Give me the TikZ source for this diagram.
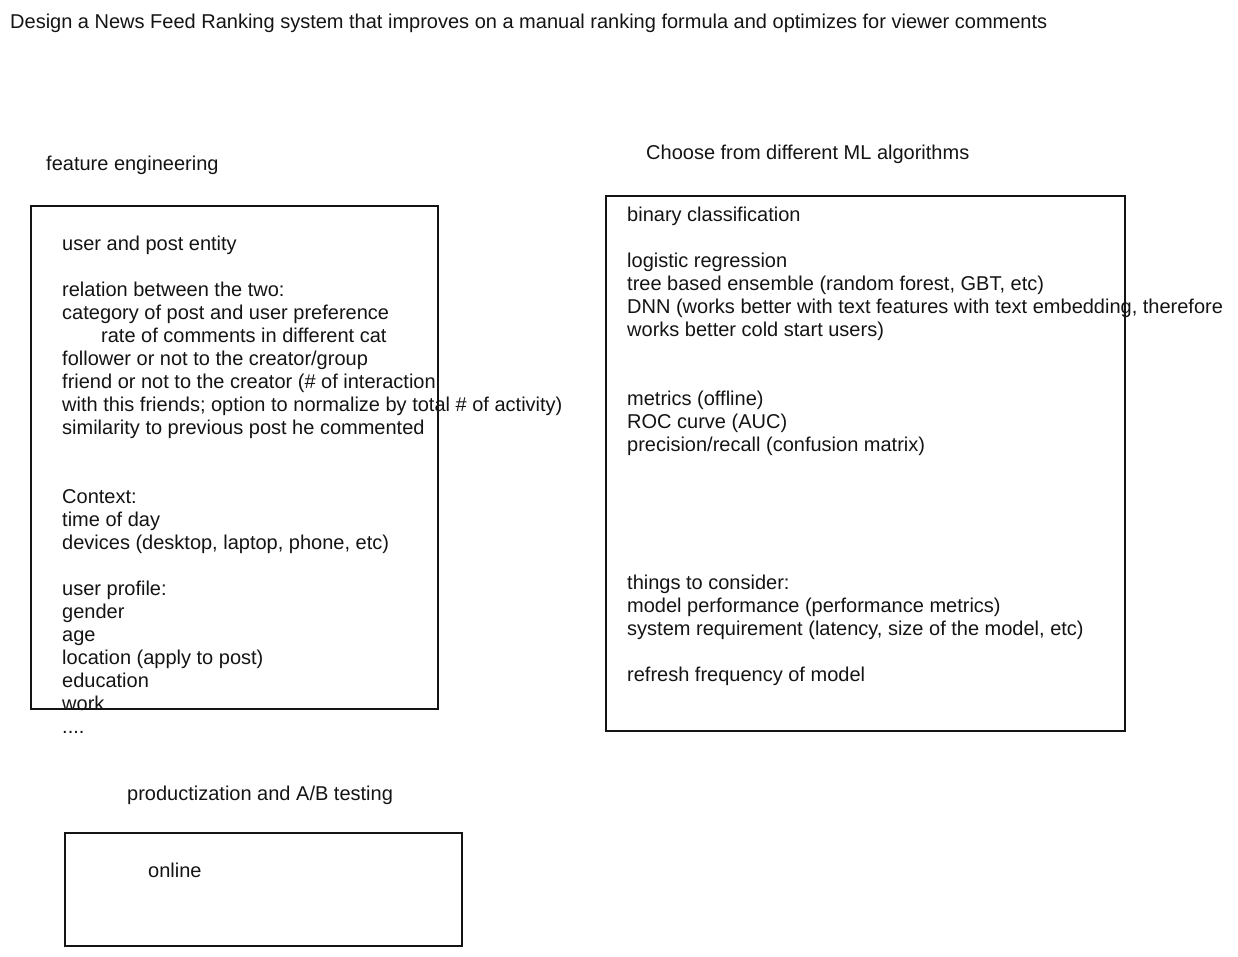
\documentclass[tikz,border=0pt]{standalone}
\usepackage{fontspec}
\setmainfont{Liberation Sans}
\usepackage{xcolor}
\usetikzlibrary{positioning}
\definecolor{ink1}{RGB}{20,20,20}

\begin{document}
\begin{tikzpicture}[x=1pt, y=-1pt,
  every node/.style={font=\fontsize{20}{23}\selectfont, text=ink1, inner sep=0pt},
  notes/.style={align=left, anchor=base west},
  sketchbox/.style={draw=ink1, line width=1.1pt}]

\useasboundingbox (0,0) rectangle (1238,956);

% TITLE
\node[anchor=base west] (title) at (10, 28) {Design a News Feed Ranking system that improves on a manual ranking formula and optimizes for viewer comments};

% FEATURE ENGINEERING (base = last line)
\node[anchor=base west] (feHead) at (46, 170) {feature engineering};
\draw[sketchbox] (31,206) rectangle (438,709);
\node[notes] (feText) at (62, 733) {user and post entity\\[23pt]
relation between the two:\\
category of post and user preference\\
\hspace*{39pt}rate of comments in different cat\\
follower or not to the creator/group\\
friend or not to the creator (\# of interaction\\
with this friends; option to normalize by total \# of activity)\\
similarity to previous post he commented\\[46pt]
Context:\\
time of day\\
devices (desktop, laptop, phone, etc)\\[23pt]
user profile:\\
gender\\
age\\
location (apply to post)\\
education\\
work\\
....};

% ML ALGORITHMS
\node[anchor=base west] (mlHead) at (646, 159) {Choose from different ML algorithms};
\draw[sketchbox] (606,196) rectangle (1125,731);
\node[notes] (mlText) at (627, 681) {binary classification\\[23pt]
logistic regression\\
tree based ensemble (random forest, GBT, etc)\\
DNN (works better with text features with text embedding, therefore\\
works better cold start users)\\[46pt]
metrics (offline)\\
ROC curve (AUC)\\
precision/recall (confusion matrix)\\[115pt]
things to consider:\\
model performance (performance metrics)\\
system requirement (latency, size of the model, etc)\\[23pt]
refresh frequency of model};

% PRODUCTIZATION
\node[anchor=base west] (abHead) at (127, 800) {productization and A/B testing};
\draw[sketchbox] (65,833) rectangle (462,946);
\node[anchor=base west] (abText) at (148, 877) {online};

\end{tikzpicture}
\end{document}
